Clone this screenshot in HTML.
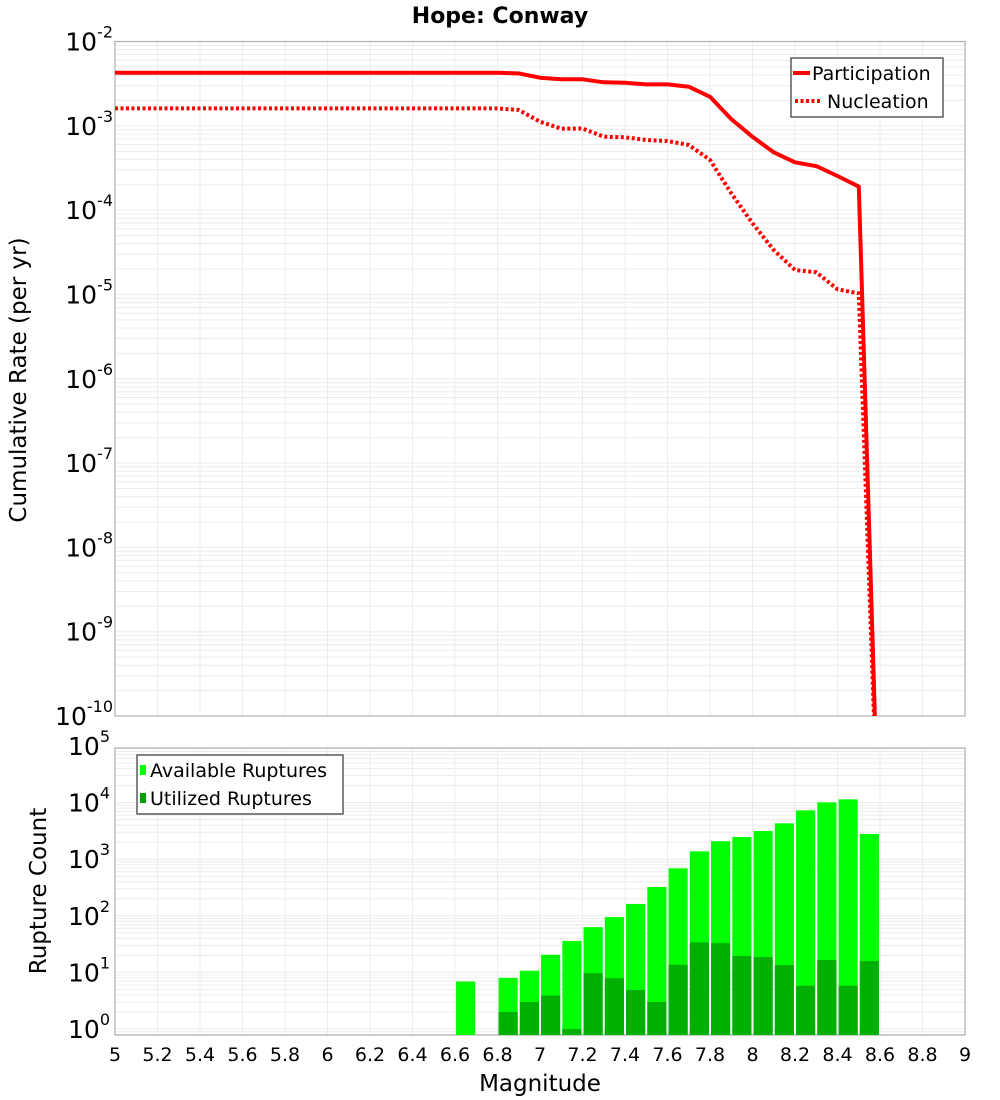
<!DOCTYPE html>
<html><head><meta charset="utf-8">
<style>
html,body{margin:0;padding:0;background:#fff;}
svg{display:block;font-family:"DejaVu Sans","Liberation Sans",sans-serif;}
</style></head>
<body>
<svg id="chart" width="1000" height="1100" viewBox="0 0 1000 1100"></svg>
<script>
// ---- data ----
const mags = [5.0,5.1,5.2,5.3,5.4,5.5,5.6,5.7,5.8,5.9,6.0,6.1,6.2,6.3,6.4,6.5,6.6,6.7,6.8,6.9,7.0,7.1,7.2,7.3,7.4,7.5,7.6,7.7,7.8,7.9,8.0,8.1,8.2,8.3,8.4,8.5,8.6];
const participation = [4.25e-3,4.25e-3,4.25e-3,4.25e-3,4.25e-3,4.25e-3,4.25e-3,4.25e-3,4.25e-3,4.25e-3,4.25e-3,4.25e-3,4.25e-3,4.25e-3,4.25e-3,4.25e-3,4.25e-3,4.25e-3,4.25e-3,4.19e-3,3.72e-3,3.56e-3,3.56e-3,3.28e-3,3.25e-3,3.10e-3,3.10e-3,2.91e-3,2.21e-3,1.20e-3,7.4e-4,4.85e-4,3.69e-4,3.33e-4,2.54e-4,1.90e-4,1e-12];
const nucleation = [1.61e-3,1.61e-3,1.61e-3,1.61e-3,1.61e-3,1.61e-3,1.61e-3,1.61e-3,1.61e-3,1.61e-3,1.61e-3,1.61e-3,1.61e-3,1.61e-3,1.61e-3,1.61e-3,1.61e-3,1.61e-3,1.61e-3,1.54e-3,1.12e-3,9.25e-4,9.3e-4,7.43e-4,7.3e-4,6.79e-4,6.6e-4,5.92e-4,3.94e-4,1.58e-4,6.97e-5,3.37e-5,1.95e-5,1.83e-5,1.15e-5,1.03e-5,1e-12];
const binMags = [6.65,6.75,6.85,6.95,7.05,7.15,7.25,7.35,7.45,7.55,7.65,7.75,7.85,7.95,8.05,8.15,8.25,8.35,8.45,8.55];
const available = [6.9,0,8,10.7,20.5,36,63,95,162,323,690,1380,2080,2470,3150,4300,7300,10100,11400,2790];
const utilized = [0,0,2,3,3.9,1,9.7,7.9,4.9,3,13.7,34,33,19.5,18.7,13.5,5.8,16.6,5.8,15.9];
const xTicks = [5,5.2,5.4,5.6,5.8,6,6.2,6.4,6.6,6.8,7,7.2,7.4,7.6,7.8,8,8.2,8.4,8.6,8.8,9];
const xTickLabels = ["5","5.2","5.4","5.6","5.8","6","6.2","6.4","6.6","6.8","7","7.2","7.4","7.6","7.8","8","8.2","8.4","8.6","8.8","9"];
const topExps = [-2,-3,-4,-5,-6,-7,-8,-9,-10];
const botExps = [5,4,3,2,1,0];

// ---- layout ----
const NS="http://www.w3.org/2000/svg";
const svg=document.getElementById('chart');
const L=115, R=965;
const T1=41.5, B1=716; // top plot: 1e-2 .. 1e-10
const T2=748, B2=1035; // bottom plot
const P0=1029, DEC2=56.6; // 10^0 position and decade size in bottom plot
const x=m=>L+(m-5)*(R-L)/4;
const y1=v=>T1+(-2-Math.log10(v))*(B1-T1)/8;
const y2=v=>P0-Math.log10(v)*DEC2;
function el(tag,attrs,parent){const e=document.createElementNS(NS,tag);for(const k in attrs)e.setAttribute(k,attrs[k]);(parent||svg).appendChild(e);return e;}

// clip paths
const defs=el('defs',{});
const c1=el('clipPath',{id:'c1'},defs);el('rect',{x:L,y:T1,width:R-L,height:B1-T1},c1);
const c2=el('clipPath',{id:'c2'},defs);el('rect',{x:L,y:T2,width:R-L,height:B2-T2},c2);

// title
const title=el('text',{x:500,y:23,'text-anchor':'middle','font-size':22,'font-weight':'bold'});
title.textContent='Hope: Conway';



// grids
function grid(T,B,ymap,expLo,expHi,clip,name){
  const g=el('g',{'clip-path':'url(#'+clip+')'});
  
  
  for(let e=expLo;e<=expHi;e++)for(let k=1;k<10;k++){
    const yy=ymap(k*Math.pow(10,e));
    if(yy<T-0.5||yy>B+0.5)continue;
    el('line',{x1:L,x2:R,y1:yy,y2:yy,stroke:'#ececec','stroke-width':1},g);
  }
  xTicks.forEach(t=>el('line',{x1:x(t),x2:x(t),y1:T,y2:B,stroke:'#ececec','stroke-width':1},g));
}
grid(T1,B1,y1,-11,-2,'c1','top-grid');
grid(T2,B2,y2,-1,5,'c2','bottom-grid');

// frames
const f1=el('rect',{x:L,y:T1,width:R-L,height:B1-T1,fill:'none',stroke:'#b0b0b0','stroke-width':1.2});

const f2=el('rect',{x:L,y:T2,width:R-L,height:B2-T2,fill:'none',stroke:'#b0b0b0','stroke-width':1.2});


// y tick labels
function powLabel(xr,yc,exp,name){
  const t=el('text',{x:xr,y:yc+9,'text-anchor':'end','font-size':25});
  
  
  const b=el('tspan',{},t);b.textContent='10';
  const s=el('tspan',{dy:-13,'font-size':16},t);s.textContent=String(exp);
}
topExps.forEach(e=>powLabel(e<=-10?113:113,y1(Math.pow(10,e)),e,'top-y-tick-label'));
botExps.forEach(e=>powLabel(110,y2(Math.pow(10,e)),e,'bottom-y-tick-label'));

// x tick labels
xTicks.forEach((t,i)=>{
  const tx=el('text',{x:x(t),y:1061,'text-anchor':'middle','font-size':19});
  tx.textContent=xTickLabels[i];
  
  
});

// axis titles
const yt1=el('text',{x:0,y:0,'text-anchor':'middle','font-size':23,transform:'translate(26,380) rotate(-90)'});
yt1.textContent='Cumulative Rate (per yr)';

const yt2=el('text',{x:0,y:0,'text-anchor':'middle','font-size':23,transform:'translate(46,891) rotate(-90)'});
yt2.textContent='Rupture Count';

const xt=el('text',{x:540,y:1091,'text-anchor':'middle','font-size':23});
xt.textContent='Magnitude';


// lines
function line(vals,name,dash){
  const d=mags.map((m,i)=>(i?'L':'M')+x(m).toFixed(1)+','+y1(vals[i]).toFixed(1)).join(' ');
  const p=el('path',{d:d,fill:'none',stroke:'#ff0000','stroke-width':4,'clip-path':'url(#c1)','stroke-linejoin':'round'});
  if(dash)p.setAttribute('stroke-dasharray',dash);
  
  
}
line(nucleation,'nucleation-line','3,2.5');
line(participation,'participation-line',null);

// bars
const bw=(x(0.09)-x(0));
const bars=el('g',{'clip-path':'url(#c2)'});

binMags.forEach((m,i)=>{
  if(available[i]>0){
    const r=el('rect',{x:x(m)-bw/2,y:y2(available[i]),width:bw,height:B2-y2(available[i]),fill:'#00ff00'},bars);
    
    
  }
  if(utilized[i]>0){
    const r=el('rect',{x:x(m)-bw/2,y:y2(utilized[i]),width:bw,height:B2-y2(utilized[i]),fill:'#00b000'},bars);
    
    
  }
});

// legends
const lg1=el('g',{});

el('rect',{x:791,y:58,width:152,height:59,fill:'#fff',stroke:'#333','stroke-width':1.2},lg1);
el('line',{x1:793,x2:810,y1:73,y2:73,stroke:'#f00','stroke-width':4},lg1);
el('line',{x1:795,x2:820,y1:101,y2:101,stroke:'#f00','stroke-width':4,'stroke-dasharray':'3,2.5'},lg1);
const lt1=el('text',{x:812,y:80,'font-size':19},lg1);lt1.textContent='Participation';

const lt2=el('text',{x:827,y:108,'font-size':19},lg1);lt2.textContent='Nucleation';


const lg2=el('g',{});

el('rect',{x:137,y:755,width:206,height:59,fill:'#fff',stroke:'#333','stroke-width':1.2},lg2);
el('rect',{x:140,y:765,width:6,height:10,fill:'#00ff00'},lg2);
el('rect',{x:140,y:793,width:6,height:10,fill:'#00a000'},lg2);
const lt3=el('text',{x:150,y:777,'font-size':19},lg2);lt3.textContent='Available Ruptures';

const lt4=el('text',{x:150,y:805,'font-size':19},lg2);lt4.textContent='Utilized Ruptures';

</script>
</body></html>
